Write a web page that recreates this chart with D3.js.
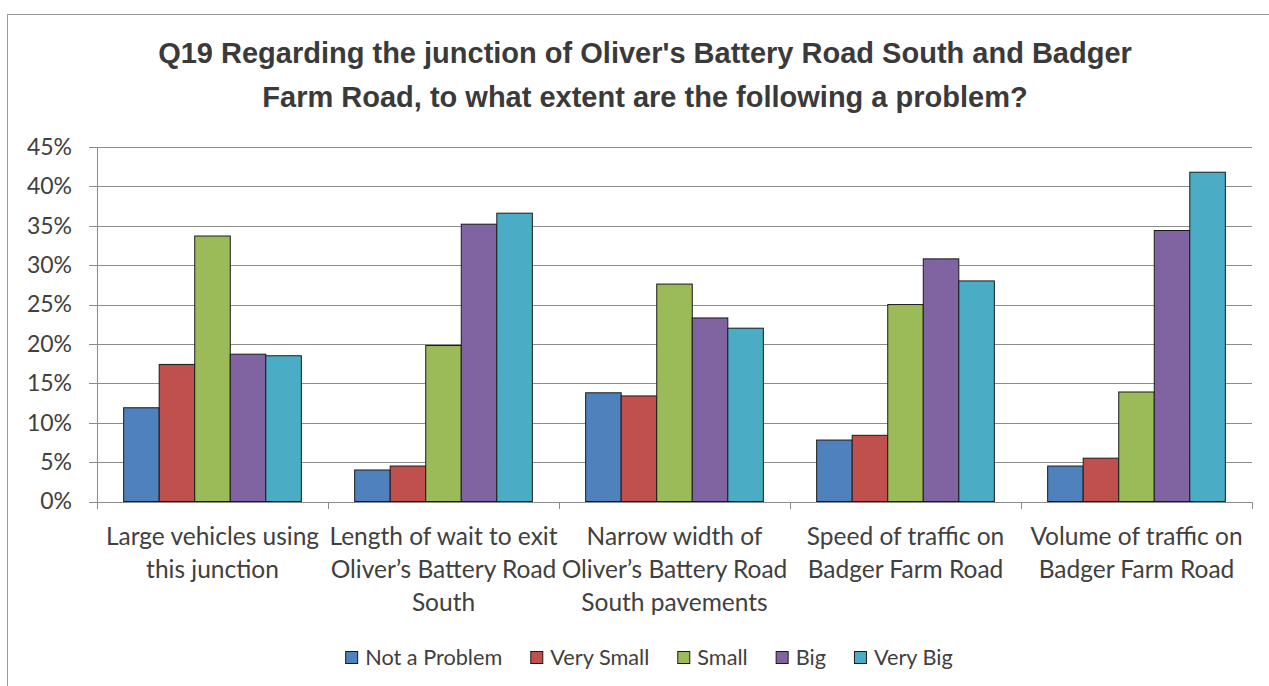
<!DOCTYPE html>
<html>
<head>
<meta charset="utf-8">
<script src="https://cdn.jsdelivr.net/npm/d3@7"></script>
<style>
  body { margin: 0; background: #fff; }
  svg { display: block; }
</style>
</head>
<body>
<script>
// chart data
var categories = [
  "Large vehicles using\nthis junction",
  "Length of wait to exit\nOliver\u2019s Battery Road\nSouth",
  "Narrow width of\nOliver\u2019s Battery Road\nSouth pavements",
  "Speed of traffic on\nBadger Farm Road",
  "Volume of traffic on\nBadger Farm Road"
];
var seriesNames = ["Not a Problem", "Very Small", "Small", "Big", "Very Big"];
var notAProblem = [0.119, 0.040, 0.138, 0.078, 0.045];
var verySmall   = [0.174, 0.045, 0.134, 0.084, 0.055];
var small       = [0.337, 0.198, 0.276, 0.250, 0.139];
var big         = [0.187, 0.352, 0.233, 0.308, 0.344];
var veryBig     = [0.185, 0.366, 0.220, 0.280, 0.418];
var yTicks = [0, 0.05, 0.10, 0.15, 0.20, 0.25, 0.30, 0.35, 0.40, 0.45];
var titleLines = [
  "Q19 Regarding the junction of Oliver's Battery Road South and Badger",
  "Farm Road, to what extent are the following a problem?"
];

var seriesValues = [notAProblem, verySmall, small, big, veryBig];
var colors = ["#4F81BD", "#C0504D", "#9BBB59", "#8064A2", "#4BACC6"];

var svgWidth = 1269;
var svgHeight = 686;
var plot = { left: 97, right: 1252, top: 147, bottom: 501.5 };
var textColor = "#404040";
var gridColor = "#8c8c8c";

var svg = d3.select("body")
  .append("svg")
  .attr("width", svgWidth)
  .attr("height", svgHeight);

svg.append("rect")
  .attr("width", svgWidth)
  .attr("height", svgHeight)
  .attr("fill", "#fff");

// chart frame (runs off the right and bottom edge like the original)
svg.append("rect")
  .attr("x", 7.5)
  .attr("y", 14.5)
  .attr("width", 1300)
  .attr("height", 700)
  .attr("fill", "none")
  .attr("stroke", "#9a9a9a");

// title
svg.append("text")
  .attr("text-anchor", "middle")
  .attr("font-family", "'Liberation Sans', Arial, sans-serif")
  .attr("font-weight", "bold")
  .attr("font-size", "29px")
  .attr("fill", "#3a3a3a")
  .selectAll("tspan")
  .data(titleLines)
  .enter()
  .append("tspan")
  .attr("x", 645)
  .attr("y", (d, i) => 63 + i * 44)
  .text(d => d);

// scales
var x0 = d3.scaleBand()
  .domain(categories)
  .range([plot.left, plot.right]);

var x1 = d3.scaleBand()
  .domain(seriesNames)
  .range([0, x0.bandwidth()])
  .paddingInner(0)
  .paddingOuter(0.75);

var y = d3.scaleLinear()
  .domain([0, 0.45])
  .range([plot.bottom, plot.top]);

// y axis with gridlines
var yAxis = svg.append("g")
  .attr("transform", `translate(${plot.left - 8},0)`)
  .call(d3.axisLeft(y)
    .tickValues(yTicks)
    .tickFormat(d3.format(".0%"))
    .tickSize(-(plot.right - plot.left + 8))
    .tickPadding(17));
yAxis.select(".domain").remove();
yAxis.selectAll(".tick line")
  .attr("stroke", gridColor)
  .attr("shape-rendering", "crispEdges");
yAxis.selectAll(".tick text")
  .attr("font-family", "Lato, 'Open Sans', sans-serif")
  .attr("font-size", "23px")
  .attr("fill", textColor);

// vertical axis line
svg.append("line")
  .attr("x1", plot.left).attr("x2", plot.left)
  .attr("y1", plot.top).attr("y2", plot.bottom + 7)
  .attr("stroke", gridColor)
  .attr("shape-rendering", "crispEdges");

// category tick marks
var boundaries = categories.map(c => x0(c)).concat([plot.right]);
svg.selectAll(".catTick")
  .data(boundaries)
  .enter()
  .append("line")
  .attr("class", "catTick")
  .attr("x1", d => d).attr("x2", d => d)
  .attr("y1", plot.bottom).attr("y2", plot.bottom + 7)
  .attr("stroke", gridColor)
  .attr("shape-rendering", "crispEdges");

// bars
var groups = svg.selectAll(".cat")
  .data(categories)
  .enter()
  .append("g")
  .attr("class", "cat")
  .attr("transform", d => `translate(${x0(d)},0)`);

groups.selectAll("rect")
  .data((c, ci) => seriesNames.map((s, si) => ({ s: s, si: si, v: seriesValues[si][ci] })))
  .enter()
  .append("rect")
  .attr("x", d => x1(d.s))
  .attr("y", d => y(d.v))
  .attr("width", x1.bandwidth())
  .attr("height", d => y(0) - y(d.v))
  .attr("fill", d => colors[d.si])
  .attr("stroke", "#1a1a1a")
  .attr("stroke-width", 1);

// category labels
var catLabels = svg.selectAll(".catLabel")
  .data(categories)
  .enter()
  .append("text")
  .attr("class", "catLabel")
  .attr("text-anchor", "middle")
  .attr("font-family", "Lato, 'Open Sans', sans-serif")
  .attr("font-size", "24.5px")
  .attr("fill", textColor);

catLabels.selectAll("tspan")
  .data(d => d.split("\n").map(line => ({ line: line, cat: d })))
  .enter()
  .append("tspan")
  .attr("x", d => x0(d.cat) + x0.bandwidth() / 2)
  .attr("y", (d, i) => 545 + i * 33)
  .text(d => d.line);

// legend
var legend = svg.append("g")
  .attr("font-family", "Lato, 'Open Sans', sans-serif")
  .attr("font-size", "21.7px")
  .attr("fill", textColor);

var lx = 0;
seriesNames.forEach(function(name, i) {
  var item = legend.append("g").attr("transform", `translate(${lx},0)`);
  item.append("rect")
    .attr("x", 0.5).attr("y", 651.5)
    .attr("width", 12).attr("height", 12)
    .attr("fill", colors[i])
    .attr("stroke", "#1a1a1a");
  var t = item.append("text")
    .attr("x", 20).attr("y", 665)
    .text(name);
  lx += 20 + t.node().getComputedTextLength() + 28;
});
var legendWidth = lx - 28;
legend.attr("transform", `translate(${649 - legendWidth / 2},0)`);
</script>
</body>
</html>
